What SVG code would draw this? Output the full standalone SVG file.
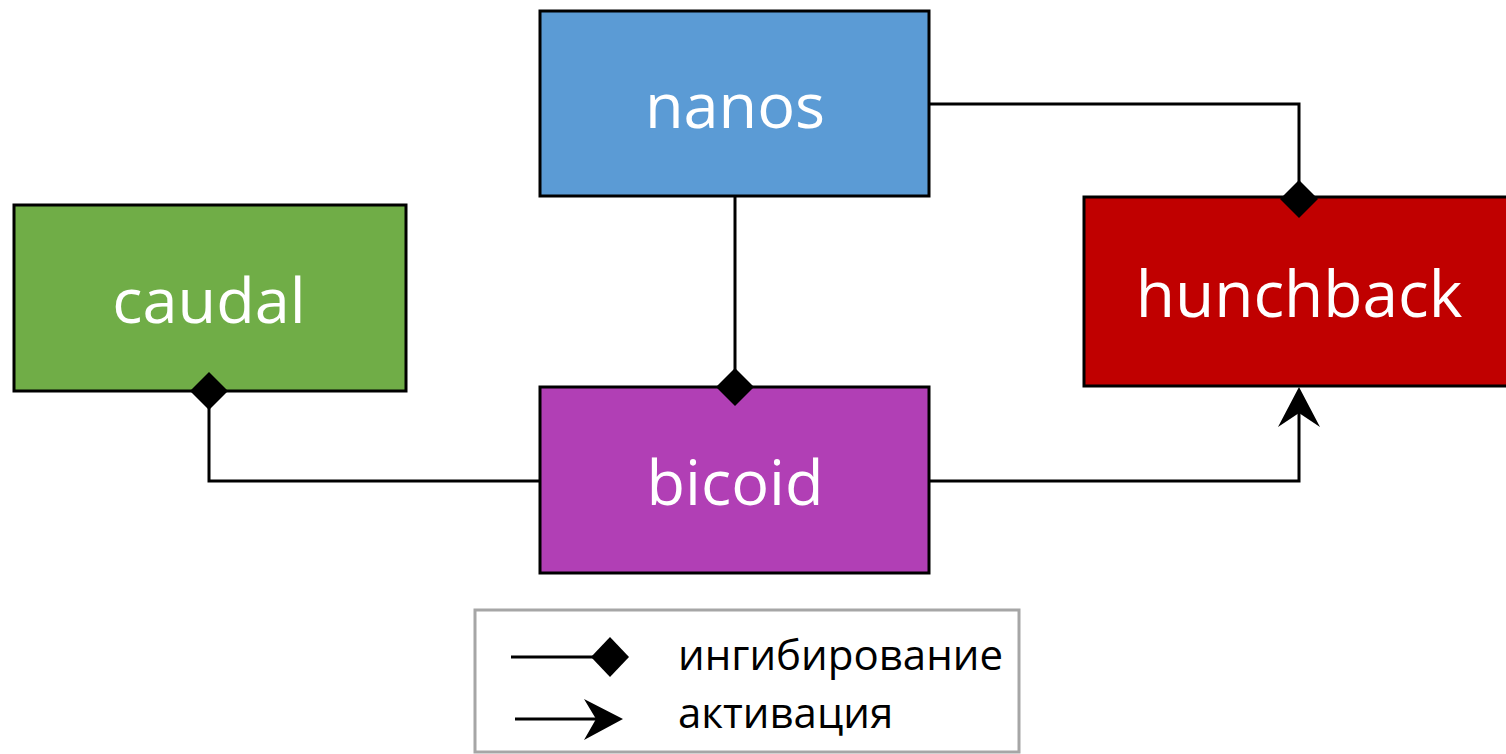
<svg xmlns="http://www.w3.org/2000/svg" width="1506" height="754" viewBox="0 0 1506 754">
<style>
.box{stroke:#000;stroke-width:3}
.lbl{font-family:"Open Sans","Noto Sans",sans-serif;font-size:63px;fill:#fff;text-anchor:middle}
.leg{font-family:"Open Sans","Noto Sans",sans-serif;font-size:42px;fill:#000}
.ln{fill:none;stroke:#000;stroke-width:3}
.dia{fill:#000}
</style>
<rect width="1506" height="754" fill="#fff"/>
<g id="connectors">
<polyline class="ln" points="929,104 1299,104 1299,199"/>
<line class="ln" x1="735" y1="196" x2="735" y2="387"/>
<polyline class="ln" points="540,481 209,481 209,391"/>
<polyline class="ln" points="929,481 1299,481 1299,395"/>
</g>
<g id="caudal">
<rect class="box" x="14" y="205" width="392" height="186" fill="#70AD47"/>
<text class="lbl" x="209" y="323">caudal</text>
</g>
<g id="nanos">
<rect class="box" x="540" y="11" width="389" height="185" fill="#5B9BD5"/>
<text class="lbl" x="735" y="128">nanos</text>
</g>
<g id="hunchback">
<rect class="box" x="1084" y="197" width="432" height="189" fill="#C00000"/>
<text class="lbl" x="1299" y="317" style="font-size:64px">hunchback</text>
</g>
<g id="bicoid">
<rect class="box" x="540" y="387" width="389" height="186" fill="#B13FB5"/>
<text class="lbl" x="735" y="505">bicoid</text>
</g>
<g id="markers">
<polygon class="dia" points="209,372 228,391 209,410 190,391"/>
<polygon class="dia" points="1299,180 1318,199 1299,218 1280,199"/>
<polygon class="dia" points="735,368 754,387 735,406 716,387"/>
<polygon class="dia" points="1299,387 1320,427 1299,413 1278,427"/>
</g>
<g id="legend">
<rect x="475" y="610" width="544" height="142" fill="#fff" stroke="#A6A6A6" stroke-width="3"/>
<line class="ln" x1="511" y1="657" x2="600" y2="657"/>
<polygon class="dia" points="610,637 629,657 610,677 591,657"/>
<line class="ln" x1="515" y1="719" x2="612" y2="719"/>
<polygon class="dia" points="623,719 584,740 596,719 584,699"/>
<text class="leg" x="678" y="670">ингибирование</text>
<text class="leg" x="678" y="728">активация</text>
</g>
</svg>
